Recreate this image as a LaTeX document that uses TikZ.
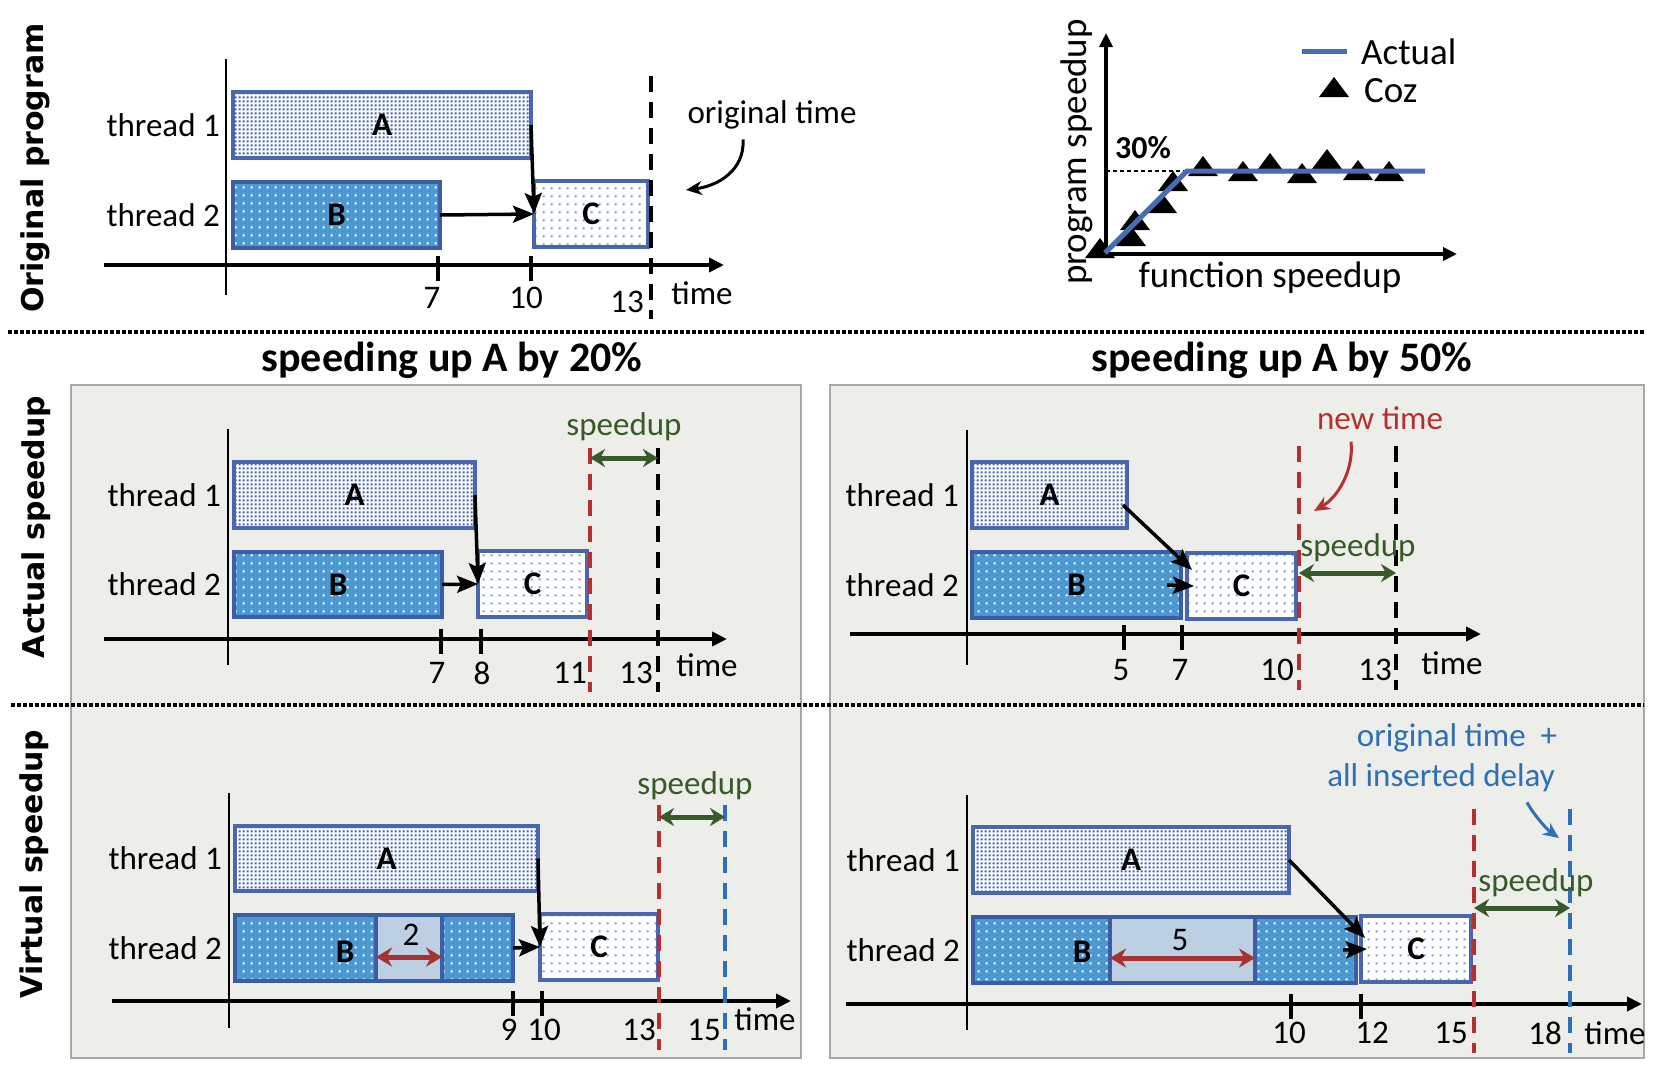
\documentclass[tikz,border=0pt]{standalone}
\usepackage{fontspec}
\setmainfont{Carlito}
\newfontfamily\sidefont{DejaVu Sans}
\usetikzlibrary{arrows.meta,patterns,calc}

\pgfdeclarepatternformonly{densedots}{\pgfpointorigin}{\pgfqpoint{3.6pt}{3.6pt}}{\pgfqpoint{3.6pt}{3.6pt}}{\pgfpathrectangle{\pgfqpoint{0.8pt}{0.8pt}}{\pgfqpoint{2pt}{2pt}}\pgfusepath{fill}}
\pgfdeclarepatternformonly{sparsedots}{\pgfpointorigin}{\pgfqpoint{7.5pt}{7.5pt}}{\pgfqpoint{7.5pt}{7.5pt}}{\pgfpathrectangle{\pgfqpoint{2.7pt}{2.7pt}}{\pgfqpoint{2.2pt}{2.2pt}}\pgfusepath{fill}}

\definecolor{panelgray}{HTML}{EDEDEA}
\definecolor{panelborder}{HTML}{A8A8A8}
\definecolor{borderA}{HTML}{4A66AD}
\definecolor{dotA}{HTML}{4461AC}
\definecolor{fillB}{HTML}{4C99D1}
\definecolor{borderB}{HTML}{3A5DA6}
\definecolor{dotC}{HTML}{7F9DD6}
\definecolor{delayfill}{HTML}{BCCFE3}
\definecolor{redc}{HTML}{B5302E}
\definecolor{redarrow}{HTML}{A83232}
\definecolor{bluec}{HTML}{2E6FB5}
\definecolor{greenc}{HTML}{375A28}
\definecolor{chartblue}{HTML}{4A6CB3}

\tikzset{
  body/.style={font=\fontsize{33}{40}\selectfont, inner sep=0pt},
  chart/.style={font=\fontsize{37}{44}\selectfont, inner sep=0pt},
  lbl/.style={font=\bfseries\fontsize{33}{40}\selectfont},
  ttl/.style={font=\bfseries\fontsize{42}{50}\selectfont, inner sep=0pt},
  side/.style={font=\sidefont\bfseries\fontsize{30}{36}\selectfont, rotate=90, inner sep=0pt},
  boxa/.style={draw=borderA, line width=4pt, preaction={fill=white}, pattern=densedots, pattern color=dotA, inner sep=0pt, outer sep=0pt, anchor=north west, lbl},
  boxb/.style={draw=borderB, line width=4.5pt, preaction={fill=fillB}, pattern=sparsedots, pattern color=white, inner sep=0pt, outer sep=0pt, anchor=north west, lbl},
  boxc/.style={draw=borderA, line width=4pt, preaction={fill=white}, pattern=sparsedots, pattern color=dotC, inner sep=0pt, outer sep=0pt, anchor=north west, lbl},
  delaybox/.style={draw=borderB, line width=4.5pt, fill=delayfill, inner sep=0pt, outer sep=0pt, anchor=north west},
  panel/.style={fill=panelgray, draw=panelborder, line width=2.5pt},
  sepline/.style={line width=4pt, dash pattern=on 3.5pt off 2.5pt},
  thinaxis/.style={line width=1.2pt},
  timeaxis/.style={line width=4pt, -{Triangle[length=15pt,width=14pt]}},
  tick/.style={line width=3.5pt},
  dep/.style={line width=3.5pt, -{Stealth[length=21pt,width=17pt,inset=4pt]}},
  vdash/.style={line width=3.5pt, dash pattern=on 16pt off 10pt},
  spd/.style={draw=greenc, line width=5pt, {Stealth[length=15pt,width=18pt]}-{Stealth[length=15pt,width=18pt]}},
  dly/.style={draw=redarrow, line width=5pt, {Stealth[length=16pt,width=19pt]}-{Stealth[length=16pt,width=19pt]}},
  curv/.style={line width=3pt, -{Stealth[length=16pt,width=14pt]}},
}
\newcommand\cozTri[2]{\fill (#1-15,#2+8) -- (#1+15,#2+8) -- (#1,#2-12) -- cycle;}

\begin{document}
\begin{tikzpicture}[x=1pt,y=-1pt]
\useasboundingbox (0,0) rectangle (1670,1080);
\fill[white] (0,0) rectangle (1670,1080);

% panels and separators
\draw[panel] (71,385) rectangle (801,1058);
\draw[panel] (830,385) rectangle (1644,1058);
\draw[sepline] (8,332) -- (1644,332);
\draw[sepline] (11,705) -- (1644,705);

% side labels and titles
\node[side] (sl1) at (35,168) {Original program};
\node[side] (sl2) at (36,527) {Actual speedup};
\node[side] (sl3) at (34,864) {Virtual speedup};
\node[ttl] (ti1) at (452,360) {speeding up A by 20\%};
\node[ttl] (ti2) at (1282,360) {speeding up A by 50\%};

% ================= original program =================
\draw[thinaxis] (226,59) -- (226,295);
\draw[timeaxis] (104,265) -- (724,265);
\node[boxa, minimum width=298pt, minimum height=66pt] (oA) at (233,92) {A};
\node[boxb, minimum width=207pt, minimum height=66pt] (oB) at (233,182) {B};
\node[boxc, minimum width=114pt, minimum height=66pt] (oC) at (534,181) {C};
\node[body, anchor=east] (oT1) at ($(oA.west)+(-13,0)$) {thread 1};
\node[body, anchor=east] (oT2) at ($(oB.west)+(-13,0)$) {thread 2};
\draw[dep] (oA.east) -- (oC.west);
\draw[dep] (oB.east) -- (oC.west);
\draw[tick] (438,256) -- (438,281);
\draw[tick] (531,256) -- (531,281);
\node[body] (o7) at (432,298) {7};
\node[body] (o10) at (526,298) {10};
\node[body] (o13) at (627,302) {13};
\draw[vdash] (651,76) -- (651,319);
\node[body] (otime) at (702,293) {time};
\node[body] (orig) at (772,115) {original time};
\coordinate (origtip) at (686,190);
\draw[curv] ($(orig.south)+(-29,10)$) .. controls (745,170) and (718,186) .. (origtip);

% ================= chart =================
\coordinate (O) at (1106,254);
\draw[line width=3.5pt, -{Triangle[length=14pt,width=13pt]}] (O) -- (1106,33);
\draw[line width=3.5pt, -{Triangle[length=14pt,width=13pt]}] (O) -- (1457,254);
\cozTri{1100}{250}
\cozTri{1131}{238}
\cozTri{1135}{222}
\cozTri{1162}{205}
\cozTri{1173}{183}
\cozTri{1203}{168}
\cozTri{1243}{173}
\cozTri{1270}{165}
\cozTri{1302}{175}
\cozTri{1327}{161}
\cozTri{1358}{172}
\cozTri{1389}{173}
\draw[line width=1.5pt, dash pattern=on 4pt off 3pt] (1106,171) -- (1189,171);
\draw[chartblue, line width=5pt] (1105,253) -- (1187,171) -- (1425,171);
\node[chart, rotate=90] (ps) at (1077,152) {program speedup};
\node[chart] (fs) at (1270,278) {function speedup};
\node[font=\bfseries\fontsize{32}{38}\selectfont, inner sep=0pt] (p30) at (1143,148) {30\%};
\draw[chartblue, line width=5pt] (1302,51) -- (1347,51);
\node[chart, anchor=west] (lgA) at (1361,52) {Actual};
\cozTri{1334}{89}
\node[chart, anchor=west] (lgC) at (1364,91) {Coz};

% ================= actual speedup, 20% =================
\draw[thinaxis] (228,429) -- (228,665);
\draw[timeaxis] (104,639) -- (727,639);
\node[boxa, minimum width=241pt, minimum height=66pt] (aA) at (234,462) {A};
\node[boxb, minimum width=208pt, minimum height=65pt] (aB) at (234,552) {B};
\node[boxc, minimum width=109pt, minimum height=66pt] (aC) at (478,551) {C};
\node[body, anchor=east] (aT1) at ($(aA.west)+(-13,0)$) {thread 1};
\node[body, anchor=east] (aT2) at ($(aB.west)+(-13,0)$) {thread 2};
\draw[dep] (aA.east) -- (aC.west);
\draw[dep] (aB.east) -- (aC.west);
\draw[tick] (441,629) -- (441,654);
\draw[tick] (481,629) -- (481,654);
\node[body] (a7) at (437,673) {7};
\node[body] (a8) at (482,673) {8};
\node[body] (a11) at (570,673) {11};
\node[body] (a13) at (636,673) {13};
\draw[vdash, redc] (590,448) -- (590,692);
\draw[vdash] (658,448) -- (658,692);
\draw[spd] (590,458) -- (658,458);
\node[body, text=greenc] (asp) at (624,427) {speedup};
\node[body] (atime) at (707,665) {time};

% ================= actual speedup, 50% =================
\draw[thinaxis] (967,430) -- (967,665);
\draw[timeaxis] (850,634) -- (1481,634);
\node[boxa, minimum width=155pt, minimum height=66pt] (bA) at (972,462) {A};
\node[boxb, minimum width=209pt, minimum height=66pt] (bB) at (972,552) {B};
\node[boxc, minimum width=109pt, minimum height=66pt] (bC) at (1187,553) {C};
\node[body, anchor=east] (bT1) at ($(bA.west)+(-13,0)$) {thread 1};
\node[body, anchor=east] (bT2) at ($(bB.west)+(-13,0)$) {thread 2};
\draw[dep] ($(bA.east)+(-4,10)$) -- ($(bC.north west)+(5,17)$);
\draw[dep] ($(bB.east)+(-14,0)$) -- ($(bC.west)+(7,0)$);
\draw[tick] (1124,625) -- (1124,650);
\draw[tick] (1182,625) -- (1182,650);
\node[body] (b5) at (1121,670) {5};
\node[body] (b7) at (1180,670) {7};
\node[body] (b10) at (1277,670) {10};
\node[body] (b13) at (1375,670) {13};
\draw[vdash, redc] (1299,446) -- (1299,690);
\draw[vdash] (1396,446) -- (1396,690);
\node[body, text=redc] (newt) at (1380,418) {new time};
\coordinate (newtip) at (1314,511);
\draw[curv, redc] ($(newt.south)+(-29,12)$) .. controls (1354,470) and (1338,497) .. (newtip);
\node[body, text=greenc] (bsp) at (1358,548) {speedup};
\draw[spd] (1299,573) -- (1396,573);
\node[body] (btime) at (1452,663) {time};

% ================= virtual speedup, 20% =================
\draw[thinaxis] (229,793) -- (229,1028);
\draw[timeaxis] (112,1001) -- (791,1001);
\node[boxa, minimum width=303pt, minimum height=65pt] (cA) at (235,826) {A};
\node[boxb, minimum width=278pt, minimum height=66pt] (cB) at (235,915) {};
\node[delaybox, minimum width=66pt, minimum height=66pt] (cD) at (376,915) {};
\node[lbl, inner sep=0pt] (cBl) at (345,952) {B};
\node[body] (c2) at (411,935) {2};
\draw[dly] (cD.west |- 0,957) -- (cD.east |- 0,957);
\node[boxc, minimum width=118pt, minimum height=66pt] (cC) at (540,914) {C};
\node[body, anchor=east] (cT1) at ($(cA.west)+(-13,0)$) {thread 1};
\node[body, anchor=east] (cT2) at ($(cB.west)+(-13,0)$) {thread 2};
\draw[dep] (cA.east) -- (cC.west);
\draw[dep] (cB.east) -- (cC.west);
\draw[tick] (513,991) -- (513,1016);
\draw[tick] (542,991) -- (542,1016);
\node[body] (c9) at (509,1030) {9};
\node[body] (c10) at (544,1030) {10};
\node[body] (c13) at (639,1030) {13};
\node[body] (c15) at (704,1030) {15};
\draw[vdash, redc] (659,805) -- (659,1050);
\draw[vdash, bluec] (725,805) -- (725,1050);
\draw[spd] (659,817) -- (725,817);
\node[body, text=greenc] (csp) at (695,786) {speedup};
\node[body] (ctime) at (765,1019) {time};

% ================= virtual speedup, 50% =================
\draw[thinaxis] (967,795) -- (967,1030);
\draw[timeaxis] (846,1004) -- (1642,1004);
\node[boxa, minimum width=316pt, minimum height=66pt] (dA) at (973,827) {A};
\node[boxb, minimum width=383pt, minimum height=66pt] (dB) at (973,917) {};
\node[delaybox, minimum width=145pt, minimum height=66pt] (dD) at (1110,917) {};
\node[lbl, inner sep=0pt] (dBl) at (1082,952) {B};
\node[body] (d5) at (1180,940) {5};
\draw[dly] (dD.west |- 0,958) -- (dD.east |- 0,958);
\node[boxc, minimum width=110pt, minimum height=66pt] (dC) at (1361,916) {C};
\node[body, anchor=east] (dT1) at ($(dA.west)+(-13,0)$) {thread 1};
\node[body, anchor=east] (dT2) at ($(dB.west)+(-13,0)$) {thread 2};
\draw[dep] (dA.east) -- ($(dC.west)+(4,-11)$);
\draw[dep] ($(dB.east)+(-13,0)$) -- ($(dC.west)+(6,0)$);
\draw[tick] (1291,994) -- (1291,1019);
\draw[tick] (1361,994) -- (1361,1019);
\node[body] (d10) at (1289,1033) {10};
\node[body] (d12) at (1372,1033) {12};
\node[body] (d15) at (1451,1033) {15};
\node[body] (d18) at (1545,1033) {18};
\draw[vdash, redc] (1474,809) -- (1474,1053);
\draw[vdash, bluec] (1570,809) -- (1570,1053);
\draw[spd] (1474,908) -- (1570,908);
\node[body, text=greenc] (dsp) at (1536,883) {speedup};
\node[body, text=bluec] (ot1) at (1457,738) {original time\ \ +};
\node[body, text=bluec] (ot2) at (1441,778) {all inserted delay};
\coordinate (deltip) at (1559,838);
\draw[curv, bluec] ($(ot2.south)+(86,10)$) .. controls (1532,812) and (1545,828) .. (deltip);
\node[body] (dtime) at (1615,1033) {time};
\end{tikzpicture}
\end{document}
